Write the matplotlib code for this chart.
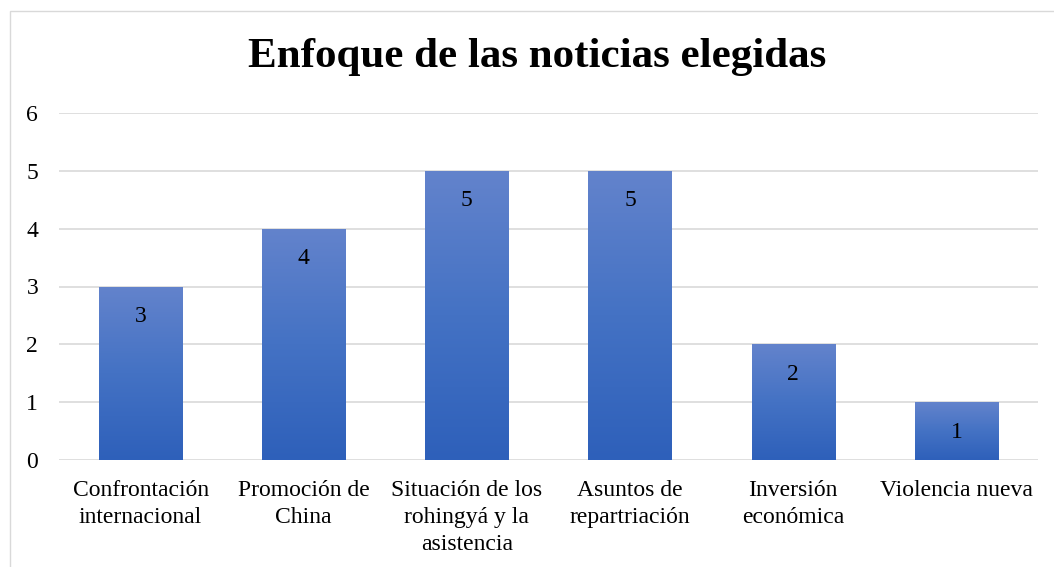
import matplotlib
matplotlib.use("Agg")
import matplotlib.pyplot as plt
import numpy as np
from matplotlib.colors import LinearSegmentedColormap
from matplotlib.patches import Rectangle

categories = ["Confrontación\ninternacional", "Promoción de\nChina",
              "Situación de los\nrohingyá y la\nasistencia", "Asuntos de\nrepartriación",
              "Inversión\neconómica", "Violencia nueva"]
values = [3, 4, 5, 5, 2, 1]
yticks = [0, 1, 2, 3, 4, 5, 6]
title = "Enfoque de las noticias elegidas"

plt.rcParams['font.family'] = ['Liberation Serif', 'DejaVu Serif']

fig = plt.figure(figsize=(10.54, 5.67), dpi=100)
ax = fig.add_axes([59/1054, 1-460/567, (1038-59)/1054, (460-113)/567])

x = np.arange(len(categories))
bars = ax.bar(x, values, width=0.51, color='none', edgecolor='none', zorder=2)

cmap = LinearSegmentedColormap.from_list("g", ["#2E60BA", "#4472C4", "#6383CC"])
grad = np.linspace(0, 1, 256).reshape(-1, 1)
for b in bars:
    x0, y0 = b.get_x(), b.get_y()
    w, h = b.get_width(), b.get_height()
    im = ax.imshow(grad, cmap=cmap, origin='lower', aspect='auto',
                   extent=[x0, x0 + w, y0, y0 + h], zorder=2)
    im.set_clip_path(b)

for b, v in zip(bars, values):
    ax.annotate(str(v), (b.get_x() + b.get_width()/2, b.get_height()),
                xytext=(0, -21.5), textcoords='offset points',
                ha='center', va='center', fontsize=17, color='#000000', zorder=3)

ax.set_xlim(-0.5, len(categories) - 0.5)
ax.set_ylim(0, 6)
ax.set_yticks(yticks)
ax.set_yticklabels([str(t) for t in yticks], fontsize=17)
ax.set_xticks(x)
ax.set_xticklabels(categories, fontsize=17, linespacing=1.36)
ax.tick_params(axis='both', length=0, colors='#000000')
ax.tick_params(axis='y', pad=15)
ax.tick_params(axis='x', pad=14.5)
ax.grid(axis='y', color='#D9D9D9', linewidth=1.2, zorder=0)
ax.set_axisbelow(True)
for s in ax.spines.values():
    s.set_visible(False)
ax.set_facecolor('none')

fig.text(537/1054, 1-57/567, title, ha='center', va='center',
         fontsize=31, fontweight='bold', color='#000000')

fig.patches.append(Rectangle((9.5/1054, -0.1), 1.2, 1 - 10.5/567 + 0.1,
                             transform=fig.transFigure, fill=False,
                             edgecolor='#D9D9D9', linewidth=1.0))

fig.savefig("out.png", dpi=100)
